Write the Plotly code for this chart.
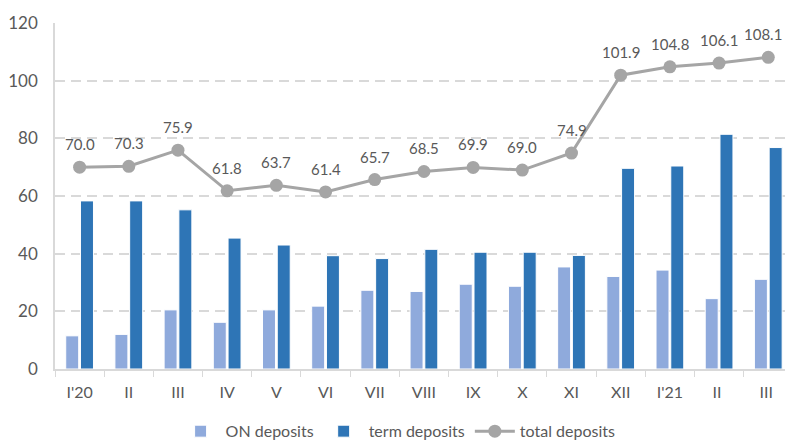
import plotly.graph_objects as go

categories = ["I'20", "II", "III", "IV", "V", "VI", "VII", "VIII", "IX", "X", "XI", "XII", "I'21", "II ", "III "]
on_deposits = [11.5, 12.0, 20.5, 16.2, 20.5, 21.8, 27.3, 26.9, 29.4, 28.7, 35.4, 32.1, 34.3, 24.4, 31.1]
term_deposits = [58.3, 58.3, 55.2, 45.4, 43.0, 39.3, 38.3, 41.5, 40.5, 40.5, 39.4, 69.6, 70.4, 81.4, 76.8]
total_deposits = [70.0, 70.3, 75.9, 61.8, 63.7, 61.4, 65.7, 68.5, 69.9, 69.0, 74.9, 101.9, 104.8, 106.1, 108.1]
y_ticks = [0, 20, 40, 60, 80, 100, 120]

FONT = "Lato"
TXT = "#595959"

fig = go.Figure()
fig.add_trace(go.Bar(x=categories, y=on_deposits, name="ON deposits",
                     marker=dict(color="#8faadc", line=dict(color="white", width=1))))
fig.add_trace(go.Bar(x=categories, y=term_deposits, name="term deposits",
                     marker=dict(color="#2e75b6", line=dict(color="white", width=1))))
fig.add_trace(go.Scatter(x=categories, y=total_deposits, name="total deposits",
                         mode="lines+markers", line=dict(color="#a5a5a5", width=3),
                         marker=dict(color="#a5a5a5", size=13)))

n = len(categories)
for i, (c, v) in enumerate(zip(categories, total_deposits)):
    fig.add_annotation(x=c, y=v, text=f"{v:.1f}", showarrow=False, yshift=23,
                       xshift=-5 if i == n - 1 else 0,
                       font=dict(family=FONT, size=15, color=TXT))

fig.update_layout(
    width=785, height=440,
    margin=dict(l=55, r=0, t=23, b=71, autoexpand=False),
    paper_bgcolor="white", plot_bgcolor="white",
    barmode="group", bargap=0.4, bargroupgap=0.12,
    font=dict(family=FONT, size=15, color=TXT),
    showlegend=True,
    legend=dict(orientation="h", x=0.47, xanchor="center", y=-0.18, yanchor="middle",
                font=dict(family=FONT, size=16, color=TXT), traceorder="normal",
                itemwidth=40, tracegroupgap=0),
)
fig.update_xaxes(
    type="category", range=[-0.5, 14.34], automargin=False,
    showline=True, linecolor="#d9d9d9", linewidth=1.5,
    ticks="outside", tickson="boundaries", ticklen=6, tickcolor="#d9d9d9",
    ticklabelstandoff=8,
    tickfont=dict(family=FONT, size=16, color=TXT), showgrid=False,
)
fig.update_yaxes(
    range=[0, 120], tickvals=y_ticks, automargin=False,
    showgrid=True, gridcolor="#d9d9d9", gridwidth=1.5, griddash="10px,6px",
    showline=True, linecolor="#d9d9d9", linewidth=1.5,
    zeroline=False, ticks="", ticklabelstandoff=12,
    tickfont=dict(family=FONT, size=17, color=TXT),
)

fig.write_html("out.html")
